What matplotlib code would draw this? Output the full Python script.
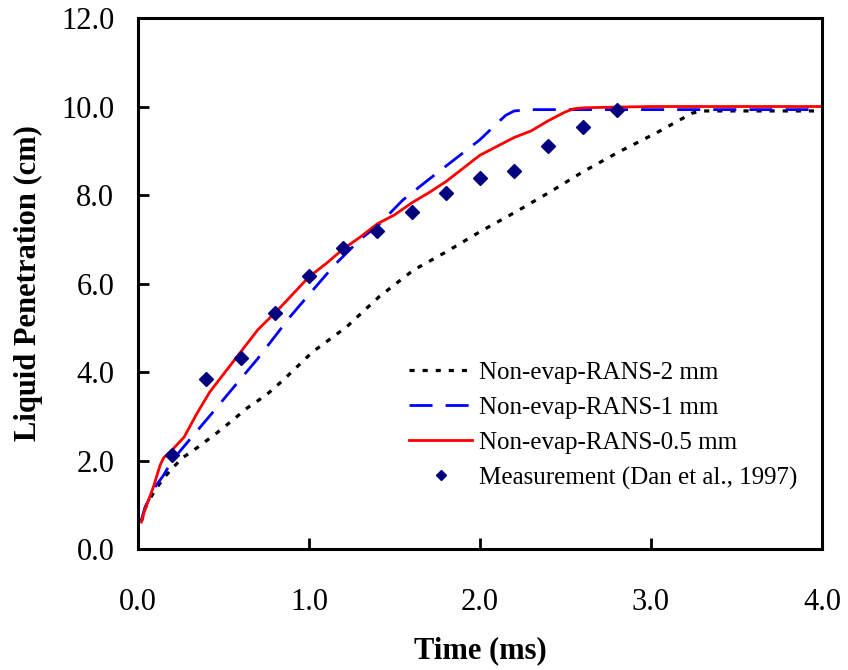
# liquid penetration vs time, non-evap RANS at three mesh sizes + Dan et al. data

import numpy as np
import matplotlib
matplotlib.use("Agg")
import matplotlib.pyplot as plt
from matplotlib.ticker import FormatStrFormatter

plt.rcParams['font.family'] = ['Liberation Serif', 'DejaVu Serif']

# Non-evap-RANS-2 mm
t_2mm = [0.02, 0.05, 0.10, 0.15, 0.20, 0.26, 0.35, 0.46, 0.55, 0.64, 0.75, 0.85,
         1.02, 1.22, 1.41, 1.61, 1.80, 2.00, 2.21, 2.41, 2.60, 2.81, 3.03, 3.24,
         3.30, 3.50, 4.00]
p_2mm = [0.62, 1.00, 1.33, 1.60, 1.82, 2.06, 2.30, 2.62, 2.90, 3.19, 3.48, 3.82,
         4.45, 5.02, 5.70, 6.30, 6.71, 7.17, 7.62, 8.07, 8.52, 8.97, 9.40, 9.85,
         9.90, 9.90, 9.90]

# Non-evap-RANS-1 mm
t_1mm = [0.02, 0.04, 0.10, 0.15, 0.20, 0.30, 0.44, 0.58, 0.70, 0.80, 0.89, 1.00,
         1.15, 1.30, 1.40, 1.55, 1.70, 1.80, 1.90, 2.00, 2.10, 2.15, 2.20, 2.30,
         2.50, 3.00, 3.50, 4.00]
p_1mm = [0.65, 0.93, 1.40, 1.67, 2.00, 2.46, 3.10, 3.75, 4.30, 4.80, 5.25, 5.75,
         6.42, 7.00, 7.30, 7.89, 8.35, 8.65, 8.95, 9.25, 9.62, 9.80, 9.90, 9.93,
         9.93, 9.93, 9.93, 9.93]

# Non-evap-RANS-0.5 mm
t_05mm = [0.02, 0.04, 0.09, 0.13, 0.15, 0.20, 0.27, 0.34, 0.42, 0.50, 0.60, 0.70,
          0.83, 1.00, 1.10, 1.20, 1.30, 1.40, 1.50, 1.60, 1.70, 1.80, 1.90, 2.00,
          2.10, 2.20, 2.30, 2.40, 2.50, 2.55, 2.60, 2.70, 3.00, 3.50, 4.00]
p_05mm = [0.61, 0.88, 1.40, 1.90, 2.06, 2.24, 2.53, 3.03, 3.55, 3.95, 4.45, 4.95,
          5.45, 6.15, 6.45, 6.78, 7.05, 7.35, 7.55, 7.82, 8.05, 8.30, 8.60, 8.90,
          9.10, 9.30, 9.45, 9.68, 9.88, 9.95, 9.97, 9.98, 10.0, 10.0, 10.0]

# Measurement (Dan et al., 1997)
t_meas = [0.2, 0.4, 0.6, 0.8, 1.0, 1.2, 1.4, 1.6, 1.8, 2.0, 2.2, 2.4, 2.6, 2.8]
p_meas = [2.12, 3.84, 4.32, 5.33, 6.17, 6.80, 7.19, 7.62, 8.05, 8.38, 8.54, 9.11,
          9.54, 9.92]

fig = plt.figure(figsize=(8.48, 6.70), dpi=100)
ax = fig.add_axes([0.1627, 0.1806, 0.8066, 0.7925])

ax.plot(t_2mm, p_2mm, color='black', lw=2.3, dashes=(1.6, 2.5),
        label='Non-evap-RANS-2 mm')
ax.plot(t_1mm, p_1mm, color='#0000ff', lw=2.0, dashes=(8.3, 4.7),
        label='Non-evap-RANS-1 mm')
ax.plot(t_05mm, p_05mm, color='#ff0000', lw=2.0,
        label='Non-evap-RANS-0.5 mm')
ax.plot(t_meas, p_meas, 'D', color='#000080', ms=7.5, ls='none',
        label='Measurement (Dan et al., 1997)')

ax.set_xlim(0, 4)
ax.set_ylim(0, 12)
ax.set_xticks([0, 1, 2, 3, 4])
ax.set_yticks(np.arange(0, 12.1, 2))
ax.xaxis.set_major_formatter(FormatStrFormatter('%.1f'))
ax.yaxis.set_major_formatter(FormatStrFormatter('%.1f'))
ax.tick_params(axis='both', direction='in', length=8, width=2, labelsize=22)
ax.tick_params(axis='x', pad=28)
ax.tick_params(axis='y', pad=17)
for s in ax.spines.values():
    s.set_linewidth(2.2)

ax.set_xlabel('Time (ms)', fontsize=22, fontweight='bold', labelpad=14)
ax.set_ylabel('Liquid Penetration (cm)', fontsize=22, fontweight='bold', labelpad=13)

leg = ax.legend(loc='upper left', bbox_to_anchor=(0.382, 0.372), frameon=False,
                fontsize=18, handlelength=2.5, handletextpad=0.28,
                labelspacing=0.5, borderaxespad=0)
leg.legend_handles[3].set_markersize(5.5)

fig.savefig('out.png', dpi=100)
